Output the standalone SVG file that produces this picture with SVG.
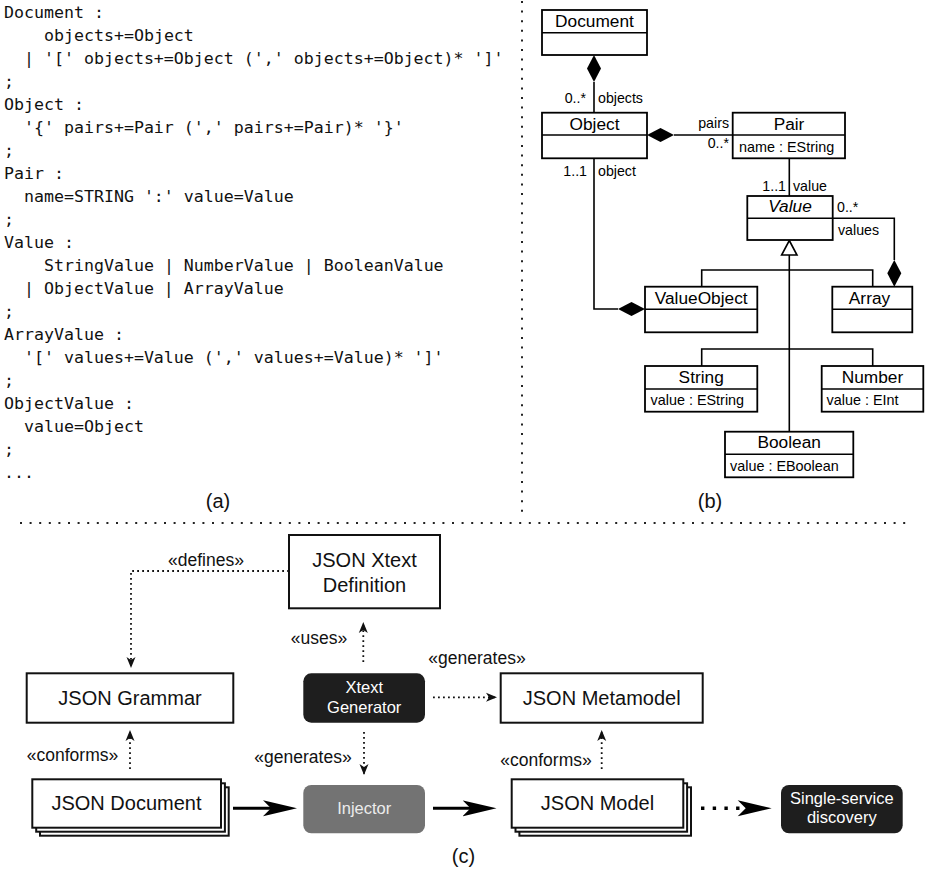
<svg xmlns="http://www.w3.org/2000/svg" width="927" height="871" viewBox="0 0 927 871">
<style>
.code{font-family:"DejaVu Sans Mono","Liberation Mono",monospace;font-size:16.6px;fill:#111}
.cap{font-family:"Liberation Sans",Arial,sans-serif;font-size:20px;fill:#111;text-anchor:middle}
.cls{font-family:"Liberation Sans",Arial,sans-serif;font-size:17.3px;fill:#000;text-anchor:middle}
.attr{font-family:"Liberation Sans",Arial,sans-serif;font-size:14.4px;fill:#000}
.lbl{font-family:"Liberation Sans",Arial,sans-serif;font-size:14.2px;fill:#000}
.box{fill:#fff;stroke:#000;stroke-width:1.8}
.uml{fill:none;stroke:#000;stroke-width:1.6}
.big{font-family:"Liberation Sans",Arial,sans-serif;font-size:20px;fill:#111;text-anchor:middle}
.st{font-family:"Liberation Sans",Arial,sans-serif;font-size:17.5px;fill:#111}
.wt{font-family:"Liberation Sans",Arial,sans-serif;font-size:16.5px;fill:#fff;text-anchor:middle}
.cbox{fill:#fff;stroke:#111;stroke-width:2}
.dot{fill:none;stroke:#111;stroke-width:1.8;stroke-dasharray:1.8 3.2}
.thick{fill:none;stroke:#000;stroke-width:3}
.sep{fill:none;stroke:#222;stroke-width:2;stroke-dasharray:2 7.6}
</style>
<defs>
<marker id="ah" markerUnits="userSpaceOnUse" markerWidth="12" markerHeight="10" refX="11" refY="5" orient="auto">
<path d="M0,0.5 L11,5 L0,9.5 L3,5 z" fill="#111"/>
</marker>
<marker id="bh" markerUnits="userSpaceOnUse" markerWidth="36" markerHeight="18" refX="9" refY="8" orient="auto">
<path d="M0,0 L34,8 L0,16 L8,8 z" fill="#000"/>
</marker>
</defs>
<rect width="927" height="871" fill="#fff"/>

<!-- separators -->
<g id="separators">
<line class="sep" x1="522" y1="1" x2="522" y2="512"/>
<line class="sep" x1="20" y1="523" x2="910" y2="523"/>
</g>

<!-- (a) grammar -->
<g id="grammar-code">
<text class="code" x="4" y="18">Document :</text>
<text class="code" x="44" y="41">objects+=Object</text>
<text class="code" x="24" y="64">| '[' objects+=Object (',' objects+=Object)* ']'</text>
<text class="code" x="4" y="87">;</text>
<text class="code" x="4" y="110">Object :</text>
<text class="code" x="24" y="133">'{' pairs+=Pair (',' pairs+=Pair)* '}'</text>
<text class="code" x="4" y="156">;</text>
<text class="code" x="4" y="179">Pair :</text>
<text class="code" x="24" y="202">name=STRING ':' value=Value</text>
<text class="code" x="4" y="225">;</text>
<text class="code" x="4" y="248">Value :</text>
<text class="code" x="44" y="271">StringValue | NumberValue | BooleanValue</text>
<text class="code" x="24" y="294">| ObjectValue | ArrayValue</text>
<text class="code" x="4" y="317">;</text>
<text class="code" x="4" y="340">ArrayValue :</text>
<text class="code" x="24" y="363">'[' values+=Value (',' values+=Value)* ']'</text>
<text class="code" x="4" y="386">;</text>
<text class="code" x="4" y="409">ObjectValue :</text>
<text class="code" x="24" y="432">value=Object</text>
<text class="code" x="4" y="455">;</text>
<text class="code" x="4" y="478">...</text>
<text class="cap" x="218" y="508">(a)</text>
</g>

<!-- (b) metamodel -->
<g id="uml-connectors">
<!-- Document - Object -->
<line class="uml" x1="594" y1="82" x2="594" y2="113"/>
<polygon points="594,55 601,68.5 594,82 587,68.5" fill="#000"/>
<text class="lbl" x="586" y="103" text-anchor="end">0..*</text>
<text class="lbl" x="598" y="103">objects</text>
<!-- Object - Pair -->
<line class="uml" x1="674" y1="135" x2="733" y2="135"/>
<polygon points="647,135 660.5,128 674,135 660.5,142" fill="#000"/>
<text class="lbl" x="729" y="128" text-anchor="end">pairs</text>
<text class="lbl" x="729" y="148" text-anchor="end">0..*</text>
<!-- Object - ValueObject -->
<polyline class="uml" points="594,158 594,309 618,309"/>
<polygon points="618,309 631.5,302 645,309 631.5,316" fill="#000"/>
<text class="lbl" x="587" y="176" text-anchor="end">1..1</text>
<text class="lbl" x="598" y="176">object</text>
<!-- Pair - Value -->
<line class="uml" x1="789.3" y1="158" x2="789.3" y2="196"/>
<text class="lbl" x="786" y="191" text-anchor="end">1..1</text>
<text class="lbl" x="793" y="191">value</text>
<!-- Value - Array -->
<polyline class="uml" points="832.7,218.3 894.3,218.3 894.3,260"/>
<polygon points="894.3,260 901.3,273.3 894.3,286.7 887.3,273.3" fill="#000"/>
<text class="lbl" x="837" y="212">0..*</text>
<text class="lbl" x="838" y="235">values</text>
<!-- generalization -->
<line class="uml" x1="789.3" y1="255" x2="789.3" y2="431.7"/>
<polyline class="uml" points="701.7,286.7 701.7,270 872.7,270 872.7,286.7"/>
<polyline class="uml" points="701.7,366 701.7,349 872.7,349 872.7,366"/>
<polygon points="789.3,240.5 797,255 781.6,255" fill="#fff" stroke="#000" stroke-width="1.6"/>
</g>

<g id="uml-Document">
<rect class="box" x="542" y="10" width="105" height="45"/>
<line class="uml" x1="542" y1="32.7" x2="647" y2="32.7"/>
<text class="cls" x="594.5" y="27">Document</text>
</g>
<g id="uml-Object">
<rect class="box" x="542" y="112.7" width="105" height="45.6"/>
<line class="uml" x1="542" y1="135" x2="647" y2="135"/>
<text class="cls" x="594.5" y="130">Object</text>
</g>
<g id="uml-Pair">
<rect class="box" x="732.7" y="112.7" width="112.3" height="45.6"/>
<line class="uml" x1="732.7" y1="135" x2="845" y2="135"/>
<text class="cls" x="789" y="130">Pair</text>
<text class="attr" x="739" y="152">name : EString</text>
</g>
<g id="uml-Value">
<rect class="box" x="747.3" y="196" width="85.4" height="44"/>
<line class="uml" x1="747.3" y1="218.3" x2="832.7" y2="218.3"/>
<text class="cls" x="790" y="212" font-style="italic">Value</text>
</g>
<g id="uml-ValueObject">
<rect class="box" x="645" y="286.7" width="112.3" height="45.6"/>
<line class="uml" x1="645" y1="309.3" x2="757.3" y2="309.3"/>
<text class="cls" x="701.2" y="303.5">ValueObject</text>
</g>
<g id="uml-Array">
<rect class="box" x="832.3" y="286.7" width="80" height="45.6"/>
<line class="uml" x1="832.3" y1="309.3" x2="912.3" y2="309.3"/>
<text class="cls" x="869.5" y="303.5">Array</text>
</g>
<g id="uml-String">
<rect class="box" x="645" y="366" width="112.3" height="45.7"/>
<line class="uml" x1="645" y1="389" x2="757.3" y2="389"/>
<text class="cls" x="701.2" y="383">String</text>
<text class="attr" x="650.5" y="405">value : EString</text>
</g>
<g id="uml-Number">
<rect class="box" x="821.7" y="366" width="101.6" height="45.7"/>
<line class="uml" x1="821.7" y1="389" x2="923.3" y2="389"/>
<text class="cls" x="872.5" y="383">Number</text>
<text class="attr" x="826.5" y="405">value : EInt</text>
</g>
<g id="uml-Boolean">
<rect class="box" x="725" y="431.7" width="128.3" height="45.6"/>
<line class="uml" x1="725" y1="454.3" x2="853.3" y2="454.3"/>
<text class="cls" x="789.2" y="448">Boolean</text>
<text class="attr" x="730" y="471">value : EBoolean</text>
</g>
<text class="cap" x="710" y="508">(b)</text>

<!-- (c) process -->
<g id="connectors">
<path class="dot" d="M289,571 H131 V668" marker-end="url(#ah)"/>
<text class="st" x="206" y="566" text-anchor="middle">«defines»</text>
<path class="dot" d="M363.3,662 V622" marker-end="url(#ah)"/>
<text class="st" x="319" y="644" text-anchor="middle">«uses»</text>
<path class="dot" d="M364,732 V775" marker-end="url(#ah)"/>
<text class="st" x="303" y="763" text-anchor="middle">«generates»</text>
<path class="dot" d="M433,697.3 H497" marker-end="url(#ah)"/>
<text class="st" x="477" y="664" text-anchor="middle">«generates»</text>
<path class="dot" d="M130,769 V730" marker-end="url(#ah)"/>
<text class="st" x="72.5" y="761" text-anchor="middle">«conforms»</text>
<path class="dot" d="M601.7,769 V730" marker-end="url(#ah)"/>
<text class="st" x="546" y="766" text-anchor="middle">«conforms»</text>
<path class="thick" d="M233,808.3 H272" marker-end="url(#bh)"/>
<path class="thick" d="M433,808.3 H471.5" marker-end="url(#bh)"/>
<path fill="none" stroke="#000" stroke-width="3.4" stroke-dasharray="3.4 8.3" d="M701,808.3 H745"/>
<path d="M737.7,800.3 L771.7,808.3 L737.7,816.3 L745.7,808.3 z" fill="#000"/>
</g>

<g id="n-xtext-definition">
<rect class="cbox" x="289" y="535" width="151" height="73.3"/>
<text class="big" x="364.5" y="567">JSON Xtext</text>
<text class="big" x="364.5" y="592">Definition</text>
</g>
<g id="n-json-grammar">
<rect class="cbox" x="26.7" y="673.3" width="206.6" height="49.4"/>
<text class="big" x="130" y="705">JSON Grammar</text>
</g>
<g id="n-xtext-generator">
<rect x="303.3" y="673.3" width="121.7" height="49.4" rx="8" fill="#1e1e1e"/>
<text class="wt" x="364.2" y="692.5">Xtext</text>
<text class="wt" x="364.2" y="713">Generator</text>
</g>
<g id="n-json-metamodel">
<rect class="cbox" x="500.7" y="673.3" width="202" height="49.4"/>
<text class="big" x="601.7" y="705">JSON Metamodel</text>
</g>
<g id="n-json-document">
<rect class="cbox" x="40" y="787.3" width="188.7" height="48.4" stroke-width="1.6"/>
<rect class="cbox" x="36.2" y="783.3" width="188.7" height="48.4" stroke-width="1.6"/>
<rect class="cbox" x="32.3" y="779.3" width="188.7" height="48.4"/>
<text class="big" x="126.5" y="810">JSON Document</text>
</g>
<g id="n-injector">
<rect x="303.3" y="785" width="121.7" height="48.3" rx="8" fill="#737373"/>
<text class="wt" x="364.2" y="814" style="fill:#ececec">Injector</text>
</g>
<g id="n-json-model">
<rect class="cbox" x="519.4" y="787.3" width="171.6" height="48.4" stroke-width="1.6"/>
<rect class="cbox" x="515.5" y="783.3" width="171.6" height="48.4" stroke-width="1.6"/>
<rect class="cbox" x="511.7" y="779.3" width="171.6" height="48.4"/>
<text class="big" x="597.5" y="810">JSON Model</text>
</g>
<g id="n-single-service">
<rect x="781" y="785" width="121.7" height="48.3" rx="8" fill="#1e1e1e"/>
<text class="wt" x="841.8" y="803.5">Single-service</text>
<text class="wt" x="841.8" y="822.5">discovery</text>
</g>
<text class="cap" x="463.5" y="863">(c)</text>
</svg>
